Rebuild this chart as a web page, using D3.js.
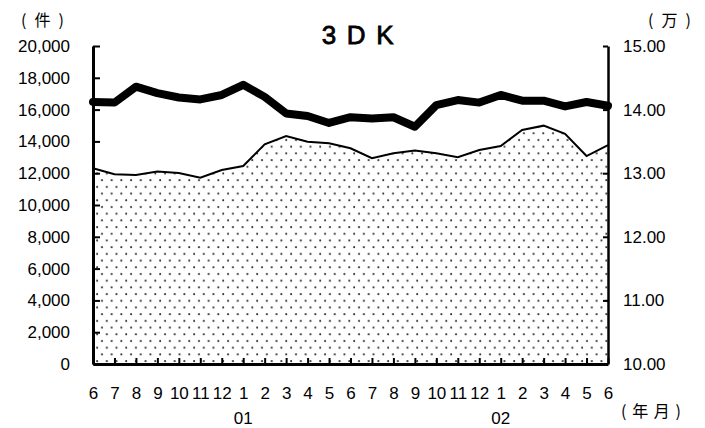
<!DOCTYPE html>
<html><head><meta charset="utf-8">
<script src="https://cdn.jsdelivr.net/npm/d3@7"></script>
<style>
body{margin:0;background:#fff;}
svg{display:block;}
text{font-family:"Liberation Sans",Arial,sans-serif;fill:#000;}
</style></head>
<body>
<svg id="c" width="705" height="428"></svg>
<script>
const months = ["6","7","8","9","10","11","12","1","2","3","4","5","6","7","8","9","10","11","12","1","2","3","4","5","6"];
const yearLabels = [{idx:7,label:"01"},{idx:19,label:"02"}];
const counts = [12310,11930,11890,12100,12010,11720,12200,12450,13820,14340,13980,13880,13570,12940,13250,13420,13250,13000,13460,13710,14720,14990,14470,13080,13760];
const prices = [14.12,14.11,14.36,14.26,14.19,14.16,14.23,14.39,14.20,13.94,13.90,13.79,13.88,13.86,13.88,13.73,14.07,14.15,14.11,14.23,14.14,14.14,14.05,14.12,14.06];
const leftTicks = [0,2000,4000,6000,8000,10000,12000,14000,16000,18000,20000];
const rightTicks = [10,11,12,13,14,15];
const title = "3DK";

const svg = d3.select("#c");
const L = 93, R = 608, T = 46, B = 364;
const x = d3.scalePoint().domain(d3.range(months.length)).range([L, R]);
const yL = d3.scaleLinear().domain([0,20000]).range([B, T]);
const yR = d3.scaleLinear().domain([10,15]).range([B, T]);

// dot pattern
const defs = svg.append("defs");
const pat = defs.append("pattern").attr("id","dots").attr("patternUnits","userSpaceOnUse")
  .attr("x",L+3).attr("y",B-4).attr("width",9.7).attr("height",13.4);
pat.append("circle").attr("cx",1.1).attr("cy",1.1).attr("r",1.0).attr("fill","#2a2a2a");
pat.append("circle").attr("cx",5.95).attr("cy",7.8).attr("r",1.0).attr("fill","#2a2a2a");

const idx = d3.range(months.length);
const area = d3.area().x(i=>x(i)).y0(B).y1(i=>yL(counts[i]));
svg.append("path").datum(idx).attr("d",area).attr("fill","url(#dots)");
svg.append("path").datum(idx).attr("d",d3.line().x(i=>x(i)).y(i=>yL(counts[i])))
  .attr("fill","none").attr("stroke","#000").attr("stroke-width",2);
svg.append("path").datum(idx).attr("d",d3.line().x(i=>x(i)).y(i=>yR(prices[i])))
  .attr("fill","none").attr("stroke","#000").attr("stroke-width",8)
  .attr("stroke-linejoin","round").attr("stroke-linecap","round");

// axes
const gL = svg.append("g").attr("transform",`translate(${L},0)`)
  .call(d3.axisLeft(yL).tickValues(leftTicks).tickFormat(d3.format(",")).tickSizeInner(-7).tickSizeOuter(0).tickPadding(23));
const gR = svg.append("g").attr("transform",`translate(${R},0)`)
  .call(d3.axisRight(yR).tickValues(rightTicks).tickFormat(d3.format(".2f")).tickSizeInner(-5).tickSizeOuter(0).tickPadding(15));
const gB = svg.append("g").attr("transform",`translate(0,${B})`)
  .call(d3.axisBottom(x).tickFormat(i=>months[i]).tickSizeInner(-6).tickSizeOuter(0).tickPadding(23));
[gL,gR,gB].forEach(g=>{
  g.selectAll("text").attr("font-size",17).attr("font-family","Liberation Sans, Arial, sans-serif").attr("fill","#000");
  g.selectAll("line").attr("stroke","#000").attr("stroke-width",2);
  g.select(".domain").attr("stroke","#000").attr("stroke-width",3);
});
gR.select(".domain").attr("stroke-width",2.5);

// year labels
svg.selectAll(".yr").data(yearLabels).enter().append("text")
  .attr("x",d=>x(d.idx)).attr("y",424).attr("text-anchor","middle").attr("font-size",17).text(d=>d.label);

// title
svg.append("text").attr("x",321.7).attr("y",44).attr("font-size",26)
  .attr("stroke","#000").attr("stroke-width",0.8)
  .attr("textLength",72).attr("lengthAdjust","spacing").text(title);

// unit labels
const cjk = '"Noto Sans CJK JP","Noto Sans CJK SC",sans-serif';
svg.append("text").attr("x",21).attr("y",26).attr("font-size",16).style("font-family",cjk)
  .attr("textLength",43).attr("lengthAdjust","spacing").text("(件)");
svg.append("text").attr("x",648).attr("y",26).attr("font-size",16).style("font-family",cjk)
  .attr("textLength",43).attr("lengthAdjust","spacing").text("(万)");
svg.append("text").attr("x",621).attr("y",417).attr("font-size",16).style("font-family",cjk)
  .attr("textLength",60).attr("lengthAdjust","spacing").text("(年月)");
</script>
</body></html>
